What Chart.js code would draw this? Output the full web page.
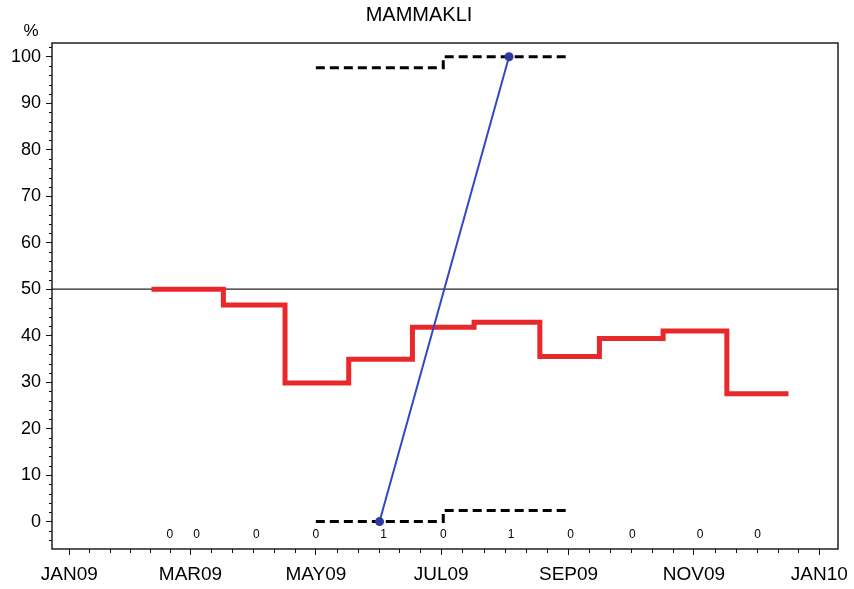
<!DOCTYPE html>
<html>
<head>
<meta charset="utf-8">
<script src="https://cdn.jsdelivr.net/npm/chart.js@4.4.1/dist/chart.umd.min.js"></script>
<style>
  body { margin: 0; background: #fff; }
  #wrap { width: 854px; height: 589px; }
</style>
</head>
<body>
<div id="wrap"><canvas id="myChart" width="854" height="589"></canvas></div>
<script>
// Datos
const titulo = "MAMMAKLI";
const unidadEjeY = "%";

// Linea roja escalonada (fecha de inicio de cada tramo y su valor)
const fechasRojo = ["2009-02-10", "2009-03-17", "2009-04-16", "2009-05-17", "2009-06-17", "2009-07-17",
                    "2009-08-18", "2009-09-16", "2009-10-17", "2009-11-17", "2009-12-17"];
const valoresRojo = [50, 46.6, 29.8, 34.9, 41.8, 42.9, 35.5, 39.4, 41.0, 27.5, 27.5];

// Linea azul con puntos
const fechasAzul = ["2009-06-01", "2009-08-03"];
const valoresAzul = [0, 100];

// Limites punteados
const fechasLimite = ["2009-05-01", "2009-07-02", "2009-09-01"];
const limiteSuperior = [97.6, 100, 100];
const limiteInferior = [0, 2.4, 2.4];

// Conteos escritos sobre el eje X
const fechasConteo = ["2009-02-19", "2009-03-04", "2009-04-02", "2009-05-01", "2009-06-03", "2009-07-02",
                      "2009-08-04", "2009-09-02", "2009-10-02", "2009-11-04", "2009-12-02"];
const conteos = [0, 0, 0, 0, 1, 0, 1, 0, 0, 0, 0];

// Ejes
const fechasEjeX = ["2009-01-01", "2009-03-01", "2009-05-01", "2009-07-01", "2009-09-01", "2009-11-01", "2010-01-01"];
const etiquetasEjeX = ["JAN09", "MAR09", "MAY09", "JUL09", "SEP09", "NOV09", "JAN10"];
const ticksEjeY = [0, 10, 20, 30, 40, 50, 60, 70, 80, 90, 100];
const lineaReferencia = 50;

const fuente = '"Liberation Sans", Arial, Helvetica, sans-serif';

// Funcion que convierte una fecha en dias desde el 1 de enero de 2009
function dia(fecha) {
  const [a, m, d] = fecha.split("-").map(Number);
  return (Date.UTC(a, m - 1, d) - Date.UTC(2009, 0, 1)) / 86400000;
}

function puntos(fechas, valores) {
  return fechas.map((f, i) => ({ x: dia(f), y: valores[i] }));
}

const xMin = -8.4, xMax = 374.1;
const yMin = -5.9, yMax = 102.95;

// Plugin para el marco, marcas menores, conteos y la unidad
const pluginExtras = {
  id: "extras",
  afterDraw(chart) {
    const { ctx, chartArea: a, scales: { x, y } } = chart;
    ctx.save();
    ctx.strokeStyle = "#111";
    ctx.lineWidth = 1.4;
    ctx.strokeRect(a.left, a.top, a.right - a.left, a.bottom - a.top);

    // Marcas menores eje X
    ctx.lineWidth = 1;
    ctx.beginPath();
    const diasX = fechasEjeX.map(dia);
    for (let i = 0; i < diasX.length - 1; i++) {
      for (let k = 1; k < 6; k++) {
        const px = Math.round(x.getPixelForValue(diasX[i] + (diasX[i + 1] - diasX[i]) * k / 6)) + 0.5;
        ctx.moveTo(px, a.bottom);
        ctx.lineTo(px, a.bottom + 4);
      }
    }
    // Marcas menores eje Y
    for (let v = -4; v <= 102; v += 2) {
      if (v % 10 === 0) continue;
      const py = Math.round(y.getPixelForValue(v)) + 0.5;
      ctx.moveTo(a.left - 3, py);
      ctx.lineTo(a.left, py);
    }
    ctx.stroke();

    // Conteos
    ctx.fillStyle = "#000";
    ctx.font = "12px " + fuente;
    ctx.textAlign = "center";
    ctx.textBaseline = "middle";
    fechasConteo.forEach((f, i) => {
      ctx.fillText(String(conteos[i]), x.getPixelForValue(dia(f)), y.getPixelForValue(-2.8));
    });

    // Unidad del eje Y
    ctx.font = "17px " + fuente;
    ctx.fillText(unidadEjeY, a.left - 21, a.top - 12);
    ctx.restore();
  }
};

const datasets = [
  {
    label: "azul",
    data: puntos(fechasAzul, valoresAzul),
    borderColor: "#3347c4",
    borderWidth: 2,
    pointRadius: 4.5,
    pointBackgroundColor: "#2b3a9e",
    pointBorderWidth: 0,
    order: 0
  },
  {
    label: "superior",
    data: puntos(fechasLimite, limiteSuperior),
    borderColor: "#000",
    borderWidth: 3,
    borderDash: [9, 5],
    stepped: true,
    pointRadius: 0,
    order: 1
  },
  {
    label: "inferior",
    data: puntos(fechasLimite, limiteInferior),
    borderColor: "#000",
    borderWidth: 3,
    borderDash: [9, 5],
    stepped: true,
    pointRadius: 0,
    order: 1
  },
  {
    label: "rojo",
    data: puntos(fechasRojo, valoresRojo),
    borderColor: "#e8282b",
    borderWidth: 5,
    stepped: true,
    pointRadius: 0,
    borderJoinStyle: "miter",
    order: 2
  },
  {
    label: "referencia",
    data: [{ x: xMin, y: lineaReferencia }, { x: xMax, y: lineaReferencia }],
    borderColor: "#222",
    borderWidth: 1.2,
    pointRadius: 0,
    order: 3
  }
];

const config = {
  type: "line",
  data: { datasets },
  options: {
    responsive: false,
    animation: false,
    devicePixelRatio: 1,
    layout: { padding: { top: 0, right: 16, bottom: 0, left: 0 } },
    plugins: {
      legend: { display: false },
      tooltip: { enabled: false },
      title: {
        display: true,
        text: titulo,
        color: "#000",
        font: { family: fuente, size: 20, weight: "normal", lineHeight: 1.2 },
        padding: { top: 3, bottom: 16 }
      }
    },
    scales: {
      x: {
        type: "linear",
        min: xMin,
        max: xMax,
        afterBuildTicks: (axis) => { axis.ticks = fechasEjeX.map(f => ({ value: dia(f) })); },
        afterFit: (s) => { s.height = 40; s.paddingLeft = 0; s.paddingRight = 0; },
        ticks: {
          autoSkip: false,
          maxRotation: 0,
          padding: 8,
          color: "#000",
          font: { family: fuente, size: 19 },
          callback: (v, i) => etiquetasEjeX[i]
        },
        grid: { drawOnChartArea: false, tickLength: 6, tickColor: "#111", tickWidth: 1 },
        border: { display: false }
      },
      y: {
        type: "linear",
        min: yMin,
        max: yMax,
        afterBuildTicks: (axis) => { axis.ticks = ticksEjeY.map(v => ({ value: v })); },
        afterFit: (s) => { s.width = 52; },
        ticks: {
          padding: 5,
          color: "#000",
          font: { family: fuente, size: 18 }
        },
        grid: { drawOnChartArea: false, tickLength: 6, tickColor: "#111", tickWidth: 1 },
        border: { display: false }
      }
    }
  },
  plugins: [pluginExtras]
};

new Chart(document.getElementById("myChart"), config);
</script>
</body>
</html>
